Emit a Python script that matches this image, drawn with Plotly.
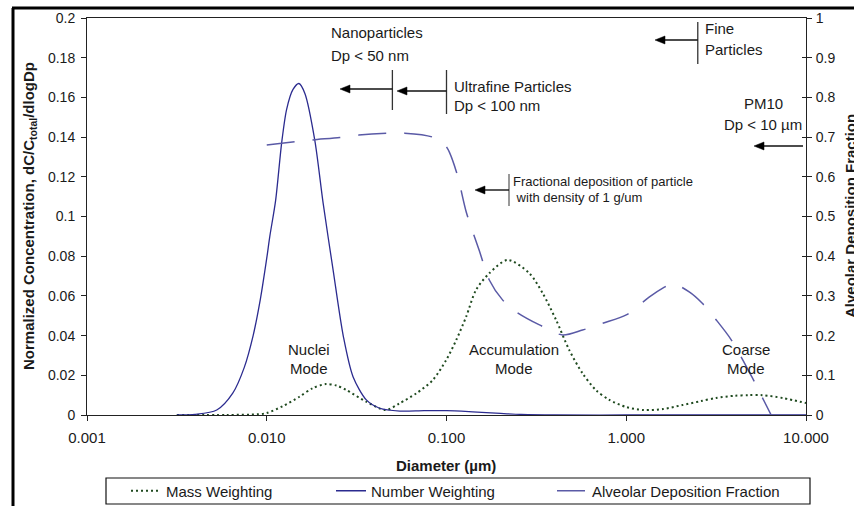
import numpy as np
import plotly.graph_objects as go

# ---- size distributions (diameter in µm) ----
mass_d = [0.00316, 0.0060, 0.0090, 0.0100, 0.0123, 0.0152, 0.0180, 0.0213, 0.0245, 0.0277,
          0.0358, 0.046, 0.0548, 0.0679, 0.0839, 0.0996, 0.1133, 0.1286, 0.146, 0.173,
          0.219, 0.289, 0.343, 0.407, 0.482, 0.571, 0.677, 0.805, 1.0, 1.25,
          1.6, 2.05, 2.6, 3.16, 4.0, 4.8, 5.7, 7.5, 10.0]
mass_v = [0.0, 0.0, 0.0004, 0.0010, 0.0045, 0.0092, 0.0135, 0.0156, 0.0148, 0.0126,
          0.0067, 0.0025, 0.0059, 0.0109, 0.0176, 0.0277, 0.0378, 0.0495, 0.063, 0.0714,
          0.0781, 0.0714, 0.0613, 0.0479, 0.0327, 0.021, 0.0126, 0.0076, 0.0040, 0.0025,
          0.003, 0.005, 0.007, 0.0086, 0.0097, 0.010, 0.010, 0.0085, 0.006]

number_d = [0.00316, 0.0040, 0.00527, 0.00647, 0.0075, 0.0084, 0.0092, 0.0100, 0.0104, 0.0112,
            0.0121, 0.0129, 0.0140, 0.0151, 0.0163, 0.0185, 0.0206, 0.0234, 0.0267, 0.0302,
            0.0358, 0.0425, 0.055, 0.075, 0.100, 0.140, 0.200, 0.260, 0.400, 1.0, 10.0]
number_v = [0.0, 0.0003, 0.0025, 0.011, 0.024, 0.040, 0.058, 0.079, 0.090, 0.108,
            0.137, 0.154, 0.164, 0.167, 0.162, 0.1385, 0.1066, 0.073, 0.0394, 0.0193,
            0.0076, 0.0034, 0.0020, 0.0022, 0.0022, 0.0016, 0.0008, 0.0003, 0.0, 0.0, 0.0]

alveolar_d = [0.0100, 0.0143, 0.0180, 0.0255, 0.0325, 0.0464, 0.0585, 0.0836, 0.100, 0.114,
              0.129, 0.152, 0.173, 0.205, 0.244, 0.329, 0.443, 0.571, 0.74, 1.0,
              1.34, 1.63, 1.80, 2.24, 2.64, 3.16, 3.83, 5.0, 5.7, 6.4]
alveolar_f = [0.680, 0.688, 0.693, 0.699, 0.705, 0.7095, 0.710, 0.700, 0.675, 0.61,
              0.51, 0.415, 0.34, 0.29, 0.26, 0.227, 0.2015, 0.214, 0.231, 0.252,
              0.297, 0.322, 0.332, 0.31, 0.282, 0.24, 0.19, 0.096, 0.045, 0.0]

# ---- axis ticks ----
x_ticks = [0.001, 0.01, 0.1, 1, 10]
x_tick_text = ["0.001", "0.010", "0.100", "1.000", "10.000"]
y_ticks = [0, 0.02, 0.04, 0.06, 0.08, 0.1, 0.12, 0.14, 0.16, 0.18, 0.2]
y_tick_text = ["0", "0.02", "0.04", "0.06", "0.08", "0.1", "0.12", "0.14", "0.16", "0.18", "0.2"]
y2_ticks = [0, 0.1, 0.2, 0.3, 0.4, 0.5, 0.6, 0.7, 0.8, 0.9, 1]
y2_tick_text = ["0", "0.1", "0.2", "0.3", "0.4", "0.5", "0.6", "0.7", "0.8", "0.9", "1"]

# ---- size-class boundaries (µm) ----
nano_cut = 0.05
ultrafine_cut = 0.1
fine_cut = 2.5
pm10_cut = 10

FONT = "Liberation Sans, Arial, sans-serif"
TXT = "#1a1a1a"
W, H = 854, 506
L, R, T, B = 87, 806, 18, 415  # plot area in pixels


def px_x(px):
    return (px - L) / (R - L)


def px_y(py):
    return (B - py) / (B - T)


def dia_x(d):
    return (np.log10(d) + 3) / 4


def dia_px(d):
    return L + dia_x(d) * (R - L)


fig = go.Figure()
fig.add_trace(go.Scatter(
    x=mass_d, y=mass_v, name="Mass Weighting", mode="lines",
    line=dict(color="#1f4a1f", width=2, dash="2px,3px", shape="spline", smoothing=0.8),
    legendwidth=160))
fig.add_trace(go.Scatter(
    x=number_d, y=number_v, name="Number Weighting", mode="lines",
    line=dict(color="#2b2b8f", width=1.3, shape="spline", smoothing=0.8),
    legendwidth=176))
fig.add_trace(go.Scatter(
    x=alveolar_d, y=alveolar_f, name="Alveolar Deposition Fraction", mode="lines",
    yaxis="y2",
    line=dict(color="#5a5aa6", width=1.5, dash="28px,18px", shape="spline", smoothing=0.8),
    legendwidth=205))
# carrier for the inward half of the right-hand tick marks
fig.add_trace(go.Scatter(x=[1], y=[0], yaxis="y3", mode="none", showlegend=False,
                         hoverinfo="skip"))

axis_common = dict(showgrid=False, zeroline=False, showline=True, linecolor="#222",
                   linewidth=1, ticks="outside", ticklen=5, tickcolor="#222", tickwidth=1)

fig.update_layout(
    width=W, height=H, autosize=False,
    margin=dict(l=L, r=W - R, t=T, b=H - B, autoexpand=False),
    paper_bgcolor="white", plot_bgcolor="white",
    font=dict(family=FONT, color=TXT),
    xaxis=dict(type="log", range=[-3, 1], tickvals=x_ticks, ticktext=x_tick_text,
               tickfont=dict(size=15), mirror=True, ticklabelstandoff=4, **axis_common),
    yaxis=dict(range=[0, 0.2], tickvals=y_ticks, ticktext=y_tick_text,
               tickfont=dict(size=14), ticklabelstandoff=3, **axis_common),
    yaxis2=dict(range=[0, 1], overlaying="y", side="right", tickvals=y2_ticks,
                ticktext=y2_tick_text, tickfont=dict(size=14), ticklabelstandoff=1,
                **axis_common),
    yaxis3=dict(range=[0, 1], overlaying="y", side="right", tickvals=y2_ticks,
                showticklabels=False, showline=False, showgrid=False, zeroline=False,
                ticks="inside", ticklen=4, tickcolor="#222", tickwidth=1),
    showlegend=True,
    legend=dict(orientation="h", x=px_x(126), xanchor="left", y=px_y(491), yanchor="middle",
                font=dict(size=15, family=FONT, color=TXT), bgcolor="rgba(0,0,0,0)",
                borderwidth=0, traceorder="normal"),
)

shapes = []
# legend frame
shapes.append(dict(type="rect", xref="paper", yref="paper",
                   x0=px_x(106), x1=px_x(810), y0=px_y(504), y1=px_y(478),
                   line=dict(color="#111", width=1.2)))
# outer frame (left and top edges)
shapes.append(dict(type="line", xref="paper", yref="paper",
                   x0=px_x(13), x1=px_x(13), y0=px_y(8), y1=px_y(508),
                   line=dict(color="black", width=3)))
shapes.append(dict(type="line", xref="paper", yref="paper",
                   x0=px_x(12), x1=px_x(856), y0=px_y(8), y1=px_y(8),
                   line=dict(color="black", width=3)))
# size-class markers
for d, ya, yb in [(nano_cut, 70, 110), (ultrafine_cut, 70, 114), (fine_cut, 22, 64)]:
    shapes.append(dict(type="line", xref="paper", yref="paper",
                       x0=dia_x(d), x1=dia_x(d), y0=px_y(ya), y1=px_y(yb),
                       line=dict(color="#333", width=1.3)))
shapes.append(dict(type="line", xref="paper", yref="paper",
                   x0=px_x(509), x1=px_x(509), y0=px_y(174), y1=px_y(206),
                   line=dict(color="#555", width=1.2)))


def arrow(tail_px, tip_px, py, head=10, half=4):
    """Left-pointing arrow: shaft as a line, head as a filled triangle."""
    shapes.append(dict(type="line", xref="paper", yref="paper",
                       x0=px_x(tail_px), x1=px_x(tip_px + head - 1), y0=px_y(py), y1=px_y(py),
                       line=dict(color="#111", width=1.4)))
    path = "M {:.5f},{:.5f} L {:.5f},{:.5f} L {:.5f},{:.5f} Z".format(
        px_x(tip_px), px_y(py), px_x(tip_px + head), px_y(py - half),
        px_x(tip_px + head), px_y(py + half))
    shapes.append(dict(type="path", xref="paper", yref="paper", path=path,
                       fillcolor="black", line=dict(color="black", width=0.5)))


arrow(dia_px(nano_cut), 340, 89)
arrow(dia_px(ultrafine_cut), 397, 91)
arrow(dia_px(fine_cut), 655, 40)
arrow(dia_px(pm10_cut) - 3, 754, 146)
arrow(509, 475, 190)
fig.update_layout(shapes=shapes)

ann = []


def label(text, px, py, size=15, anchor="left", bold=False, angle=0):
    if bold:
        text = "<b>" + text + "</b>"
    ann.append(dict(text=text, xref="paper", yref="paper", x=px_x(px), y=px_y(py),
                    xanchor=anchor, yanchor="middle", showarrow=False, textangle=angle,
                    font=dict(size=size, family=FONT, color=TXT)))


label("Nanoparticles", 329, 33)
label("Dp &lt; 50 nm", 329, 55)
label("Ultrafine Particles", 452, 86)
label("Dp &lt; 100 nm", 452, 106)
label("Fine", 703, 28)
label("Particles", 703, 49)
label("PM10", 763, 103, anchor="center")
label("Dp &lt; 10 µm", 763, 124, anchor="center")
label("Fractional deposition of particle", 511, 181, size=13)
label(" with density of 1 g/um", 511, 197, size=13)
label("Nuclei", 309, 349, anchor="center")
label("Mode", 309, 368, anchor="center")
label("Accumulation", 514, 349, anchor="center")
label("Mode", 514, 368, anchor="center")
label("Coarse", 746, 349, anchor="center")
label("Mode", 746, 368, anchor="center")

label("Diameter (µm)", 446, 465, anchor="center", bold=True)
label("Normalized Concentration, dC/C<sub>total</sub>/dlogDp", 30, 216, anchor="center",
      bold=True, angle=-90)
label("Alveolar Deposition Fraction", 851, 216, anchor="center", bold=True, angle=-90)

fig.update_layout(annotations=ann)
fig.write_html("out.html")
